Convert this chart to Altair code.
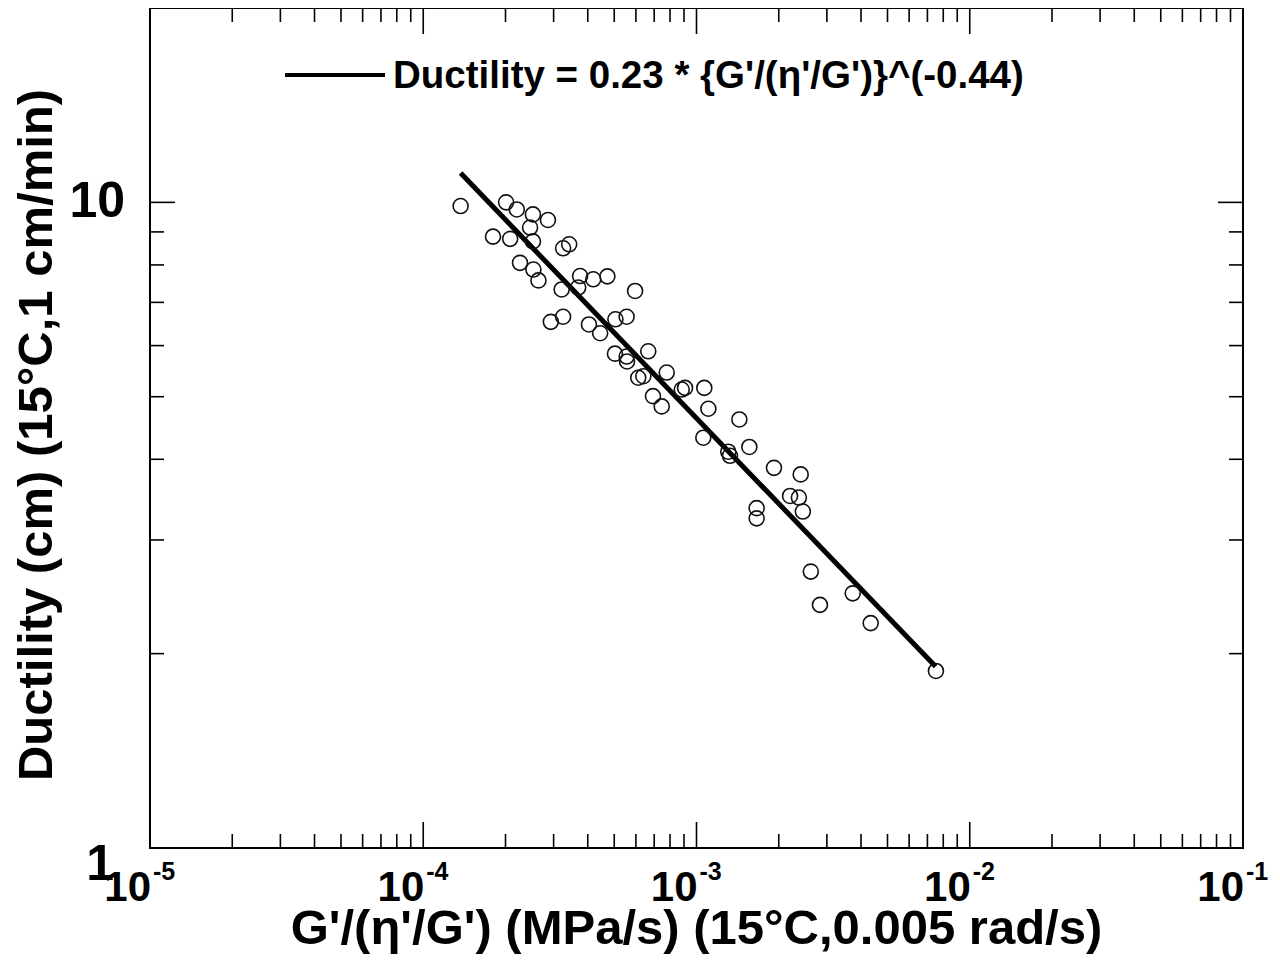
import altair as alt
import pandas as pd

# ---- data ----
g_ratio = [1.37e-4, 2.01e-4, 2.20e-4, 2.52e-4, 2.86e-4, 1.80e-4, 2.08e-4, 2.46e-4, 2.52e-4, 2.26e-4,
           2.53e-4, 2.64e-4, 3.25e-4, 3.42e-4, 3.75e-4, 4.19e-4, 4.72e-4, 3.21e-4, 3.69e-4, 5.96e-4,
           2.93e-4, 3.25e-4, 4.04e-4, 4.44e-4, 5.05e-4, 5.55e-4, 5.03e-4, 5.55e-4, 5.57e-4, 6.66e-4,
           6.12e-4, 6.39e-4, 7.78e-4, 6.93e-4, 7.46e-4, 9.08e-4, 8.83e-4, 1.068e-3, 1.105e-3, 1.435e-3,
           1.059e-3, 1.307e-3, 1.326e-3, 1.561e-3, 1.921e-3, 2.406e-3, 2.20e-3, 2.37e-3, 2.45e-3, 1.66e-3,
           1.66e-3, 2.62e-3, 2.83e-3, 3.73e-3, 4.34e-3, 7.52e-3]
ductility = [9.87, 10.0, 9.75, 9.58, 9.39, 8.85, 8.78, 9.14, 8.70, 8.06,
             7.87, 7.57, 8.49, 8.61, 7.69, 7.60, 7.68, 7.33, 7.38, 7.29,
             6.53, 6.65, 6.47, 6.27, 6.59, 6.65, 5.83, 5.77, 5.67, 5.88,
             5.35, 5.38, 5.45, 5.01, 4.83, 5.16, 5.13, 5.16, 4.79, 4.61,
             4.32, 4.11, 4.05, 4.18, 3.88, 3.79, 3.51, 3.49, 3.32, 3.36,
             3.24, 2.68, 2.38, 2.48, 2.23, 1.88]

fit_x = [1.37e-4, 7.5e-3]
fit_y = [11.1, 1.91]

x_major = [1e-5, 1e-4, 1e-3, 1e-2, 1e-1]
x_exp = ["-5", "-4", "-3", "-2", "-1"]
x_minor = [m * d for d in [1e-5, 1e-4, 1e-3, 1e-2] for m in range(2, 10)]
y_major = [10]
y_minor = [2, 3, 4, 5, 6, 7, 8, 9]
y_label_10 = ["10"]
y_label_1 = ["1"]

legend_text = "Ductility = 0.23 * {G'/(\u03b7'/G')}^(-0.44)"
x_title = "G'/(\u03b7'/G') (MPa/s) (15\u00b0C,0.005 rad/s)"
y_title = "Ductility (cm) (15\u00b0C,1 cm/min)"

W, H = 1093, 840
FONT = "Liberation Sans, Arial, sans-serif"

xs = alt.Scale(type="log", domain=[1e-5, 1e-1], nice=False)
ys = alt.Scale(type="log", domain=[1, 20], nice=False)

pts = pd.DataFrame({"x": g_ratio, "y": ductility})
fit = pd.DataFrame({"x": fit_x, "y": fit_y})
xmaj = pd.DataFrame({"v": x_major, "e": x_exp})
xmin_ = pd.DataFrame({"v": x_minor})
ymaj = pd.DataFrame({"v": y_major})
ymin_ = pd.DataFrame({"v": y_minor})

points = alt.Chart(pts).mark_point(shape="circle", filled=False, size=225,
                                   strokeWidth=1.6, color="#111", opacity=1).encode(
    x=alt.X("x:Q", scale=xs, axis=None),
    y=alt.Y("y:Q", scale=ys, axis=None),
)
line = alt.Chart(fit).mark_line(strokeWidth=5, color="black").encode(
    x=alt.X("x:Q", scale=xs, axis=None),
    y=alt.Y("y:Q", scale=ys, axis=None),
)

TW = 1.6
def xticks(df, length):
    bot = alt.Chart(df).mark_rule(color="black", strokeWidth=TW).encode(
        x=alt.X("v:Q", scale=xs, axis=None), y=alt.value(H), y2=alt.value(H - length))
    top = alt.Chart(df).mark_rule(color="black", strokeWidth=TW).encode(
        x=alt.X("v:Q", scale=xs, axis=None), y=alt.value(0), y2=alt.value(length))
    return bot + top

def yticks(df, length):
    left = alt.Chart(df).mark_rule(color="black", strokeWidth=TW).encode(
        y=alt.Y("v:Q", scale=ys, axis=None), x=alt.value(0), x2=alt.value(length))
    right = alt.Chart(df).mark_rule(color="black", strokeWidth=TW).encode(
        y=alt.Y("v:Q", scale=ys, axis=None), x=alt.value(W), x2=alt.value(W - length))
    return left + right

ticks = xticks(xmaj, 26) + xticks(xmin_, 14) + yticks(ymaj, 25) + yticks(ymin_, 14)

xlab_base = alt.Chart(xmaj).mark_text(font=FONT, fontSize=42, fontWeight="bold", align="right",
                                       baseline="alphabetic", dx=1, color="black").encode(
    x=alt.X("v:Q", scale=xs, axis=None), y=alt.value(893), text=alt.value("10"))
xlab_exp = alt.Chart(xmaj).mark_text(font=FONT, fontSize=25, fontWeight="bold", align="left",
                                      baseline="alphabetic", dx=3, color="black").encode(
    x=alt.X("v:Q", scale=xs, axis=None), y=alt.value(872), text="e:N")

ylab10 = alt.Chart(pd.DataFrame({"v": y_major, "t": y_label_10})).mark_text(
    font=FONT, fontSize=50, fontWeight="bold", align="right", baseline="middle", dx=0,
    color="black").encode(y=alt.Y("v:Q", scale=ys, axis=None), x=alt.value(-25), text="t:N")
ylab1 = alt.Chart(pd.DataFrame({"v": [1], "t": y_label_1})).mark_text(
    font=FONT, fontSize=50, fontWeight="bold", align="right", baseline="middle", dy=17,
    color="black").encode(y=alt.Y("v:Q", scale=ys, axis=None), x=alt.value(-36), text="t:N")

xtitle = alt.Chart(pd.DataFrame({"t": [x_title]})).mark_text(
    font=FONT, fontSize=49, fontWeight="bold", align="center", baseline="alphabetic",
    color="black").encode(x=alt.value(W / 2), y=alt.value(936), text="t:N")
ytitle = alt.Chart(pd.DataFrame({"t": [y_title]})).mark_text(
    font=FONT, fontSize=49, fontWeight="bold", align="center", baseline="alphabetic",
    angle=270, color="black").encode(x=alt.value(-98), y=alt.value(427), text="t:N")

leg_line = alt.Chart(pd.DataFrame({"t": [legend_text]})).mark_rule(
    color="black", strokeWidth=4).encode(x=alt.value(135), x2=alt.value(235), y=alt.value(67))
leg_text = alt.Chart(pd.DataFrame({"t": [legend_text]})).mark_text(
    font=FONT, fontSize=38.5, fontWeight="bold", align="left", baseline="middle",
    color="black").encode(x=alt.value(243), y=alt.value(68), text="t:N")

chart = alt.layer(ticks, line, points, xlab_base, xlab_exp, ylab10, ylab1,
                  xtitle, ytitle, leg_line, leg_text).properties(
    width=W, height=H,
    autosize=alt.AutoSizeParams(type="none"),
    padding={"left": 142, "top": 0, "right": 29, "bottom": 107},
    background="white",
).configure_view(stroke="black", strokeWidth=2)

chart.save("out.html", embed_options={"renderer": "svg", "actions": False})
